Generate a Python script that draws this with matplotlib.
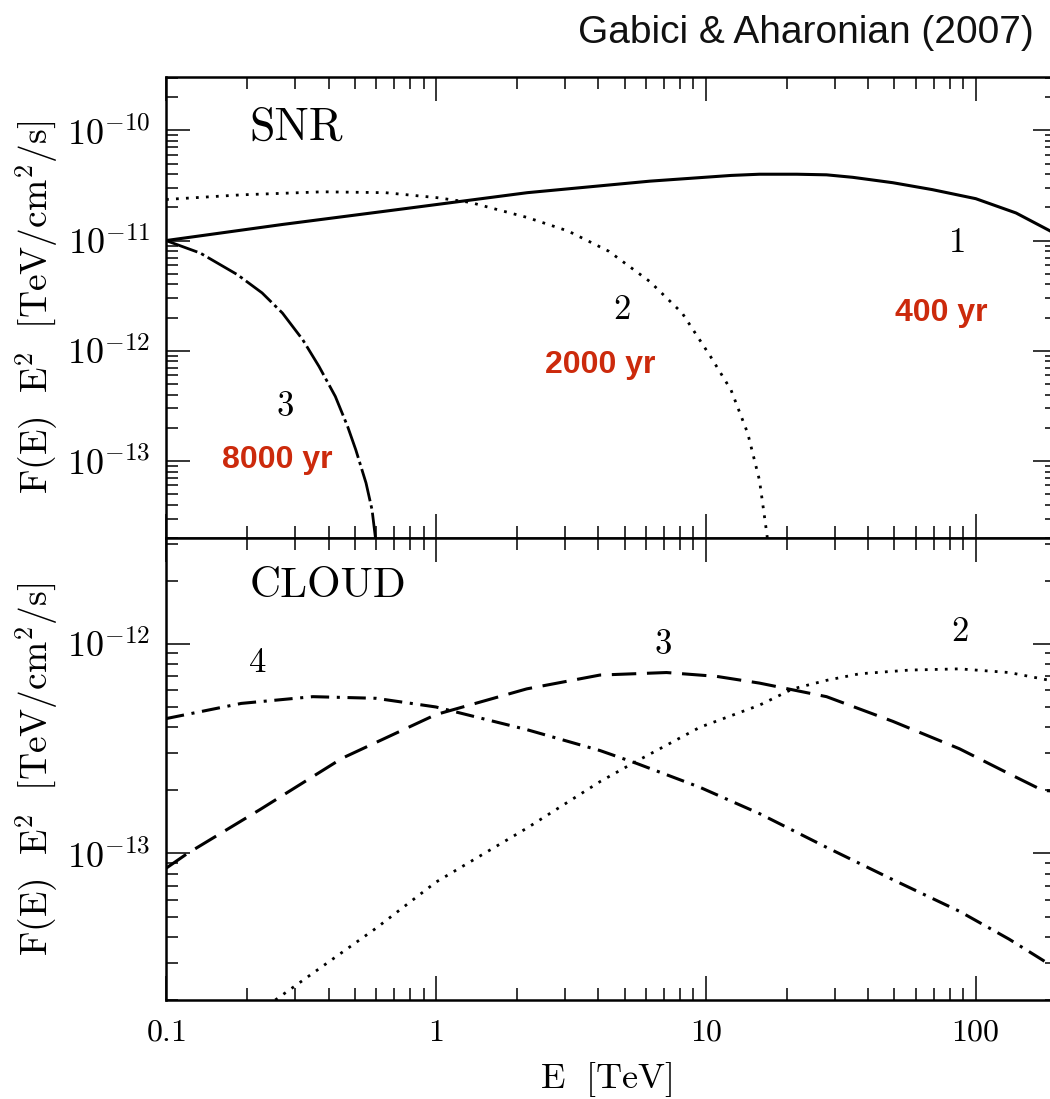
import numpy as np
import matplotlib.pyplot as plt
from matplotlib.ticker import LogLocator, NullFormatter, FuncFormatter

plt.rcParams['mathtext.fontset'] = 'cm'

# --- data (E in TeV, E^2 F(E) in TeV/cm^2/s) ---
# SNR panel
snr1_E = [0.1, 0.27, 0.77, 2.18, 6.2, 12.4, 15.8, 21.7, 28, 35, 49.3, 69, 100, 141, 189, 200]
snr1_F = [1.0e-11, 1.4e-11, 1.95e-11, 2.72e-11, 3.46e-11, 3.9e-11, 4.0e-11, 4.0e-11,
          3.95e-11, 3.75e-11, 3.35e-11, 2.9e-11, 2.4e-11, 1.78e-11, 1.22e-11, 1.13e-11]

snr2_E = [0.1, 0.19, 0.38, 0.65, 1.01, 1.34, 2.18, 3.09, 4.37, 6.2, 8.17, 10.4, 12.4,
          14.3, 15.8, 16.7, 16.9]
snr2_F = [2.36e-11, 2.6e-11, 2.77e-11, 2.72e-11, 2.45e-11, 2.22e-11, 1.62e-11, 1.22e-11,
          8.0e-12, 4.25e-12, 2.2e-12, 8.9e-13, 4.4e-13, 1.78e-13, 6.7e-14, 2.5e-14, 2.0e-14]

snr3_E = [0.1, 0.134, 0.184, 0.227, 0.27, 0.321, 0.369, 0.424, 0.471, 0.505, 0.551, 0.58,
          0.597]
snr3_F = [1.0e-11, 7.7e-12, 4.9e-12, 3.35e-12, 2.2e-12, 1.26e-12, 7.2e-13, 3.85e-13,
          2.05e-13, 1.26e-13, 6.3e-14, 3.6e-14, 2.0e-14]

# CLOUD panel
cl2_E = [0.254, 0.395, 0.6, 1, 2.17, 4.05, 5.38, 9.5, 15.8, 21, 28, 37.1, 56.8, 87.1,
         133, 188, 200]
cl2_F = [2.0e-14, 3.0e-14, 4.4e-14, 7.3e-14, 1.32e-13, 2.2e-13, 2.7e-13, 4.0e-13,
         5.1e-13, 6.1e-13, 6.7e-13, 7.2e-13, 7.5e-13, 7.6e-13, 7.3e-13, 6.7e-13, 6.6e-13]

cl3_E = [0.1, 0.12, 0.223, 0.45, 1, 2.17, 4.05, 7.15, 10.95, 15.8, 28, 49.3, 87, 133,
         177, 200]
cl3_F = [8.5e-14, 1.0e-13, 1.62e-13, 2.85e-13, 4.6e-13, 6.1e-13, 7.1e-13, 7.3e-13,
         7.0e-13, 6.5e-13, 5.6e-13, 4.27e-13, 3.16e-13, 2.4e-13, 2.0e-13, 1.98e-13]

cl4_E = [0.1, 0.19, 0.35, 0.6, 1, 2.17, 4.05, 5.5, 9.5, 15.8, 28, 49.3, 87, 133, 177, 200]
cl4_F = [4.4e-13, 5.2e-13, 5.6e-13, 5.5e-13, 5.0e-13, 3.9e-13, 3.1e-13, 2.7e-13, 2.07e-13,
         1.55e-13, 1.07e-13, 7.5e-14, 5.3e-14, 3.9e-14, 3.1e-14, 2.8e-14]

e_ticks = [0.1, 1, 10, 100]
e_labels = ['0.1', '1', '10', '100']
snr_yticks = [1e-13, 1e-12, 1e-11, 1e-10]
cloud_yticks = [1e-13, 1e-12]

red = '#cc2a0c'

fig = plt.figure(figsize=(10.5, 10.99), dpi=100)
W, H = 1050, 1099
ax1 = fig.add_axes([166 / W, 1 - 538 / H, 891 / W, 461 / H])
ax2 = fig.add_axes([166 / W, 1 - 1000 / H, 891 / W, 462 / H])


def style(ax, yticks):
    ax.set_xscale('log')
    ax.set_yscale('log')
    ax.set_xlim(0.1, 200)
    ax.tick_params(which='both', direction='in', top=True, right=True, width=1.1)
    ax.tick_params(which='major', length=17, labelsize=23, pad=12)
    ax.tick_params(axis='y', which='major', labelsize=26, pad=11)
    ax.tick_params(which='minor', length=8.5)
    for s in ax.spines.values():
        s.set_linewidth(1.8)
    ax.xaxis.set_minor_locator(LogLocator(base=10, subs=np.arange(2, 10), numticks=50))
    ax.xaxis.set_minor_formatter(NullFormatter())
    ax.set_yticks(yticks)
    ax.yaxis.set_minor_locator(LogLocator(base=10, subs=np.arange(2, 10), numticks=50))
    ax.yaxis.set_major_formatter(FuncFormatter(lambda v, p: r'$10^{%d}$' % round(np.log10(v))))
    ax.yaxis.set_minor_formatter(NullFormatter())
    ax.set_ylabel(r'$\mathrm{F(E)\ \ E^2\ \ [TeV/cm^2/s]}$', fontsize=27)
    ax.yaxis.set_label_coords(-0.118, 0.5)


style(ax1, snr_yticks)
style(ax2, cloud_yticks)
ax1.set_ylim(2e-14, 3.05e-10)
ax2.set_ylim(2e-14, 3.2e-12)
ax1.set_xticks(e_ticks)
ax1.tick_params(labelbottom=False)
ax2.set_xticks(e_ticks, labels=[r'$%s$' % s for s in e_labels])
ax2.set_xlabel(r'$\mathrm{E\ \ [TeV]}$', fontsize=26)
ax2.xaxis.set_label_coords(0.494, -0.13)

dot = (0, (1, 2.6))
ax1.plot(snr1_E, snr1_F, color='black', lw=2.2, solid_capstyle='butt')
ax1.plot(snr2_E, snr2_F, color='black', lw=2.0, linestyle=dot)
ax1.plot(snr3_E, snr3_F, color='black', lw=2.0, linestyle=(0, (12, 1.5, 1.2, 1.5)))

ax2.plot(cl2_E, cl2_F, color='black', lw=2.0, linestyle=dot)
ax2.plot(cl3_E, cl3_F, color='black', lw=2.2, linestyle=(0, (8, 3.5)))
ax2.plot(cl4_E, cl4_F, color='black', lw=2.2, linestyle=(0, (6, 2.5, 1, 2.5)))

# panel and curve labels
ax1.text(0.094, 0.89, 'SNR', transform=ax1.transAxes, fontsize=33, family='cmr10',
         ha='left', va='center')
ax2.text(0.094, 0.896, 'CLOUD', transform=ax2.transAxes, fontsize=31, family='cmr10',
         ha='left', va='center')

for x, y, s in [(0.889, 0.64, '1'), (0.512, 0.495, '2'), (0.1336, 0.284, '3')]:
    ax1.text(x, y, s, transform=ax1.transAxes, fontsize=25, family='cmr10',
             ha='center', va='center')
for x, y, s in [(0.870, 0.488, '400 yr'), (0.487, 0.375, '2000 yr'), (0.1246, 0.169, '8000 yr')]:
    ax1.text(x, y, s, transform=ax1.transAxes, fontsize=23, family='Liberation Sans',
             fontweight='bold', color=red, ha='center', va='center')
for x, y, s in [(0.103, 0.729, '4'), (0.558, 0.768, '3'), (0.891, 0.797, '2')]:
    ax2.text(x, y, s, transform=ax2.transAxes, fontsize=25, family='cmr10',
             ha='center', va='center')

fig.text(1034 / W, 1 - 33 / H, 'Gabici & Aharonian (2007)', ha='right', va='center',
         fontsize=28, family='Liberation Sans', color='#111111')

fig.savefig('out.png', dpi=100)
